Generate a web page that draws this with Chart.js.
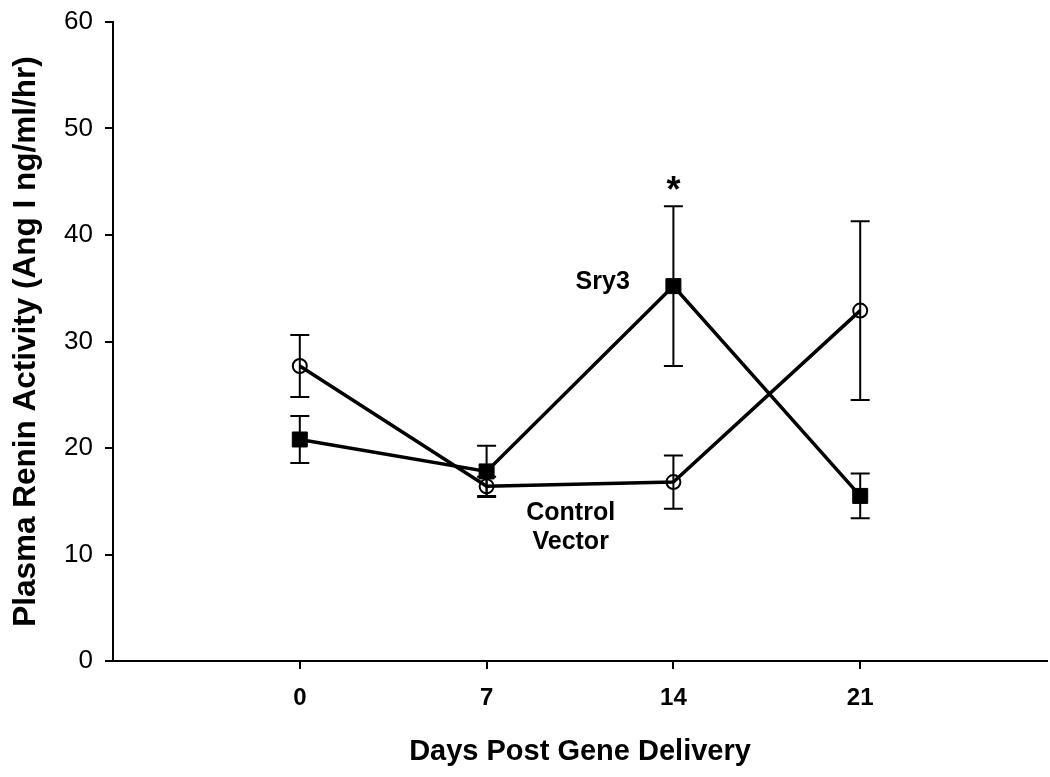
<!DOCTYPE html>
<html>
<head>
<meta charset="utf-8">
<script src="https://cdn.jsdelivr.net/npm/chart.js@4/dist/chart.umd.min.js"></script>
<style>
  html, body { margin: 0; padding: 0; background: #fff; }
  #wrap { width: 1050px; height: 777px; }
</style>
</head>
<body>
<div id="wrap"><canvas id="c" width="1050" height="777"></canvas></div>
<script>
// ---- data ----
const days = [0, 7, 14, 21];
const sry3 = [20.8, 17.8, 35.2, 15.5];
const sry3Err = [2.2, 2.4, 7.5, 2.1];
const controlVector = [27.7, 16.4, 16.8, 32.9];
const controlErr = [2.9, 0.9, 2.5, 8.4];
const xTickValues = [0, 7, 14, 21];
const yTickValues = [0, 10, 20, 30, 40, 50, 60];
const seriesLabels = ['Sry3', 'Control Vector'];
const annotations = [
  { text: ['Sry3'], x: 11.35, y: 35.6 },
  { text: ['Control', 'Vector'], x: 10.15, y: 12.55 },
];
const significance = { text: '*', dayIndex: 2 };

const toPts = (vals) => vals.map((v, i) => ({ x: days[i], y: v }));

const errorBarPlugin = {
  id: 'errorBars',
  beforeDatasetsDraw(chart) {
    const { ctx, scales: { x, y } } = chart;
    const groups = [[sry3, sry3Err], [controlVector, controlErr]];
    ctx.save();
    ctx.strokeStyle = '#000';
    ctx.lineWidth = 2;
    groups.forEach(([vals, errs]) => {
      vals.forEach((v, i) => {
        const px = x.getPixelForValue(days[i]);
        const top = y.getPixelForValue(v + errs[i]);
        const bot = y.getPixelForValue(v - errs[i]);
        ctx.beginPath();
        ctx.moveTo(px, top); ctx.lineTo(px, bot);
        ctx.moveTo(px - 9.5, top); ctx.lineTo(px + 9.5, top);
        ctx.moveTo(px - 9.5, bot); ctx.lineTo(px + 9.5, bot);
        ctx.stroke();
      });
    });
    ctx.restore();
  }
};

const labelPlugin = {
  id: 'labels',
  afterDraw(chart) {
    const { ctx, scales: { x, y } } = chart;
    ctx.save();
    ctx.fillStyle = '#000';
    ctx.textAlign = 'center';
    ctx.textBaseline = 'middle';
    ctx.font = 'bold 25px "Liberation Sans", Arial, sans-serif';
    annotations.forEach(a => {
      const px = x.getPixelForValue(a.x);
      const py = y.getPixelForValue(a.y);
      const lh = 29;
      a.text.forEach((t, k) => {
        ctx.fillText(t, px, py + (k - (a.text.length - 1) / 2) * lh);
      });
    });
    const i = significance.dayIndex;
    const sx = x.getPixelForValue(days[i]);
    const sy = y.getPixelForValue(sry3[i] + sry3Err[i]);
    ctx.font = 'bold 36px "Liberation Sans", Arial, sans-serif';
    ctx.textBaseline = 'alphabetic';
    ctx.fillText(significance.text, sx, sy - 4);
    ctx.restore();
  }
};

new Chart(document.getElementById('c'), {
  type: 'line',
  data: {
    datasets: [
      {
        label: seriesLabels[0],
        data: toPts(sry3),
        borderColor: '#000',
        borderWidth: 3.5,
        pointStyle: 'rect',
        pointRadius: 10.6,
        pointBackgroundColor: '#000',
        pointBorderColor: '#000',
        pointBorderWidth: 1,
        fill: false,
        tension: 0,
      },
      {
        label: seriesLabels[1],
        data: toPts(controlVector),
        borderColor: '#000',
        borderWidth: 3.5,
        pointStyle: 'circle',
        pointRadius: 7,
        pointBackgroundColor: 'rgba(0,0,0,0)',
        pointBorderColor: '#000',
        pointBorderWidth: 2,
        fill: false,
        tension: 0,
      },
    ]
  },
  options: {
    responsive: false,
    animation: false,
    events: [],
    layout: { autoPadding: false, padding: { top: 22, right: 3, left: 0, bottom: 0 } },
    plugins: { legend: { display: false }, tooltip: { enabled: false } },
    scales: {
      x: {
        type: 'linear',
        min: -7,
        max: 28,
        afterBuildTicks(scale) { scale.ticks = xTickValues.map(v => ({ value: v })); },
        afterFit(scale) { scale.height = 116; scale.paddingLeft = 0; scale.paddingRight = 0; },
        grid: { drawOnChartArea: false, color: '#000', lineWidth: 2, tickLength: 8 },
        border: { display: true, color: '#000', width: 2 },
        ticks: {
          color: '#000',
          padding: 15,
          maxRotation: 0,
          autoSkip: false,
          font: { family: '"Liberation Sans", Arial', size: 24, weight: 'bold' },
          callback: (v) => String(v),
        },
        title: {
          display: true,
          text: 'Days Post Gene Delivery',
          color: '#000',
          font: { family: '"Liberation Sans", Arial', size: 29, weight: 'bold' },
          padding: { top: 0, bottom: 8 },
        },
      },
      y: {
        type: 'linear',
        min: 0,
        max: 60,
        afterBuildTicks(scale) { scale.ticks = yTickValues.map(v => ({ value: v })); },
        afterFit(scale) { scale.width = 113; scale.paddingTop = 0; scale.paddingBottom = 0; },
        grid: { drawOnChartArea: false, color: '#000', lineWidth: 2, tickLength: 8 },
        border: { display: true, color: '#000', width: 2 },
        ticks: {
          color: '#000',
          padding: 12,
          font: { family: '"Liberation Sans", Arial', size: 26 },
        },
        title: {
          display: true,
          text: 'Plasma Renin Activity (Ang I ng/ml/hr)',
          color: '#000',
          font: { family: '"Liberation Sans", Arial', size: 31.5, weight: 'bold' },
          padding: { top: 7, bottom: 0 },
        },
      },
    },
  },
  plugins: [errorBarPlugin, labelPlugin],
});
</script>
</body>
</html>
